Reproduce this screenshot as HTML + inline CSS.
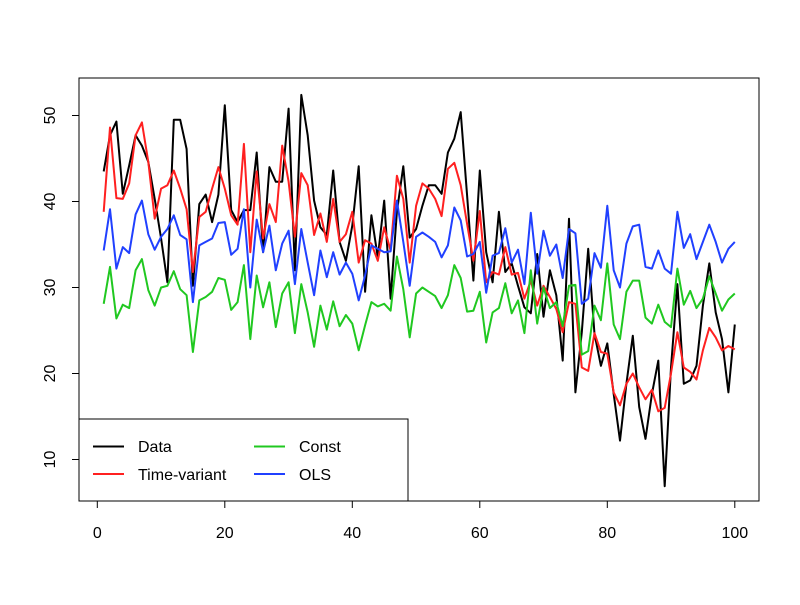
<!DOCTYPE html>
<html><head><meta charset="utf-8"><style>
html,body{margin:0;padding:0;background:#fff;}
svg text{font-family:"Liberation Sans",sans-serif;font-size:16px;fill:#000;}
</style></head><body>
<svg id="chart" width="800" height="600" viewBox="0 0 800 600" xmlns="http://www.w3.org/2000/svg">
<rect x="0" y="0" width="800" height="600" fill="#fff"/>
<g id="series"></g>
<rect x="79" y="78" width="680" height="423" fill="none" stroke="#000" stroke-width="1"/>
<g id="xaxis"></g>
<g id="yaxis"></g>
<g>
<rect x="79" y="419" width="329" height="82" fill="#fff" stroke="#000" stroke-width="1"/>
<g><line x1="93" y1="446.5" x2="124" y2="446.5" stroke="#000" stroke-width="2"/><text x="138" y="452">Data</text></g>
<g><line x1="93" y1="474" x2="124" y2="474" stroke="#ff2020" stroke-width="2"/><text x="138" y="480">Time-variant</text></g>
<g><line x1="254" y1="446.5" x2="285" y2="446.5" stroke="#20c820" stroke-width="2"/><text x="299" y="452">Const</text></g>
<g><line x1="254" y1="474" x2="285" y2="474" stroke="#2040ff" stroke-width="2"/><text x="299" y="480">OLS</text></g>
</g>
</svg>
<script>
const dataSeries = [43.5,47.7,49.3,40.9,44.2,47.7,46.5,44.6,40.3,35.7,30.6,49.5,49.5,46.1,30.2,39.7,40.8,37.6,40.8,51.2,39,37.6,39,39,45.7,34.1,44,42.3,42.3,50.8,32,52.4,47.7,40.1,37,36.1,43.6,35.3,33.1,37.2,44.1,29.5,38.4,33.5,40.1,28.7,38.8,44.1,35.8,36.8,39.5,41.9,41.9,40.9,45.7,47.3,50.4,40.7,30.8,43.6,34.1,30.6,38.8,31.8,32.8,30.2,27.7,27,33.9,26.6,32,29.1,21.5,38,17.8,24.8,34.5,24.6,20.9,23.5,17.6,12.2,18.8,24.4,16.1,12.4,17.6,21.5,6.9,20.7,30.4,18.8,19.2,20.9,27.9,32.8,27.1,24,17.8,25.7];
const timeVariant = [38.8,48.6,40.4,40.3,42.1,47.7,49.2,44.6,38,41.5,41.9,43.6,41.5,39.1,31.8,38.2,38.8,41.5,44,41.5,38.4,37.3,46.7,34.1,43.5,35.7,39.7,37.6,46.5,42.3,35.9,43.3,41.9,36.1,38.6,35.3,40.3,35.3,36.2,38.8,32.9,35.5,35.1,33.1,37,34.3,43,40.3,32.9,39.5,42.1,41.5,40.3,38.3,43.8,44.5,41.9,37.4,33.1,38.9,30.6,31.8,31.5,34.7,31.5,31.7,28.7,30.8,27.9,30.2,28.9,27.5,24.8,28.3,28.1,20.7,20.3,24.7,22.5,22.3,17.8,16.3,18.8,20,18.4,17,18.1,15.6,16,20,24.8,20.7,20.2,19.3,22.7,25.3,24.2,22.7,23.2,22.8];
const constSeries = [28.1,32.4,26.4,28,27.6,32,33.3,29.7,27.9,30,30.2,31.9,29.8,29.1,22.5,28.5,28.9,29.5,31.1,30.9,27.4,28.3,32.6,24,31.4,27.7,30.6,25.4,29.3,30.6,24.7,30.4,27.1,23.1,27.9,25.1,28.4,25.5,26.8,25.8,22.7,25.6,28.3,27.8,28.1,27.3,33.6,29.8,24.2,29.3,30,29.5,29,27.6,29.1,32.6,31.1,27.2,27.3,29.5,23.6,27.1,27.6,30.5,27,28.5,24.7,32,25.8,30,27.6,28.3,25.5,30.2,30.3,22.2,22.6,27.9,26.2,32.8,25.7,24,29.5,30.8,30.8,26.5,25.8,28,26,25.4,32.2,28,29.6,27.6,28.7,31.3,29.3,27.3,28.6,29.3];
const olsSeries = [34.3,39.1,32.2,34.7,34,38.5,40.1,36.2,34.4,35.9,36.8,38.4,36.1,35.6,28.3,34.9,35.3,35.7,37.5,37.6,33.8,34.5,39.1,30,37.9,34.1,37.2,32,35.1,36.6,30.4,36.8,32.9,29.1,34.3,31.2,34.1,31.5,32.9,31.6,28.5,31.4,34.9,34.5,34.1,34.2,40.1,35.3,30.2,35.9,36.4,35.9,35.3,33.5,34.9,39.3,37.8,33.6,33.9,35.3,29.4,33.7,34,36.9,32.9,34.4,30.4,38.7,31.6,36.6,33.7,35,31.1,36.8,36.3,28.1,28.7,34,32.3,39.5,32,30,35.1,37.1,37.3,32.4,32.2,34.3,32.2,31.6,38.8,34.6,36.2,33.3,35.3,37.3,35.3,32.9,34.5,35.3];
const xTicks = [0,20,40,60,80,100];
const yTicks = [10,20,30,40,50];

const NS = "http://www.w3.org/2000/svg";
function xScale(v){ return 97.3 + (v - 0) * 6.375; }
function yScale(v){ return 459.5 - (v - 10) * 8.6; }

const seriesDefs = [
  {vals: constSeries, color: "#20c820", name: "line-const"},
  {vals: timeVariant, color: "#ff2020", name: "line-time-variant"},
  {vals: olsSeries, color: "#2040ff", name: "line-ols"},
  {vals: dataSeries, color: "#000000", name: "line-data"}
];
const sg = document.getElementById("series");
const order = [3,1,0,2];
order.forEach(function(k){
  const s = seriesDefs[k];
  const pts = s.vals.map(function(v,i){ return xScale(i+1).toFixed(1) + "," + yScale(v).toFixed(1); }).join(" ");
  const pl = document.createElementNS(NS, "polyline");
  pl.setAttribute("points", pts);
  pl.setAttribute("fill", "none");
  pl.setAttribute("stroke", s.color);
  pl.setAttribute("stroke-width", "2");
  pl.setAttribute("stroke-linejoin", "round");
  
  
  sg.appendChild(pl);
});

const xg = document.getElementById("xaxis");
const xl = document.createElementNS(NS, "line");
xl.setAttribute("x1", xScale(xTicks[0])); xl.setAttribute("x2", xScale(xTicks[xTicks.length-1]));
xl.setAttribute("y1", 501); xl.setAttribute("y2", 501); xl.setAttribute("stroke", "#000");


xg.appendChild(xl);
xTicks.forEach(function(t){
  const tk = document.createElementNS(NS, "line");
  tk.setAttribute("x1", xScale(t)); tk.setAttribute("x2", xScale(t));
  tk.setAttribute("y1", 501); tk.setAttribute("y2", 508); tk.setAttribute("stroke", "#000");
  
  
  xg.appendChild(tk);
  const tx = document.createElementNS(NS, "text");
  tx.setAttribute("x", xScale(t)); tx.setAttribute("y", 538);
  tx.setAttribute("text-anchor", "middle");
  tx.textContent = String(t);
  
  
  xg.appendChild(tx);
});

const yg = document.getElementById("yaxis");
const yl = document.createElementNS(NS, "line");
yl.setAttribute("x1", 79); yl.setAttribute("x2", 79);
yl.setAttribute("y1", yScale(yTicks[0])); yl.setAttribute("y2", yScale(yTicks[yTicks.length-1]));
yl.setAttribute("stroke", "#000");


yg.appendChild(yl);
yTicks.forEach(function(t){
  const tk = document.createElementNS(NS, "line");
  tk.setAttribute("x1", 72); tk.setAttribute("x2", 79);
  tk.setAttribute("y1", yScale(t)); tk.setAttribute("y2", yScale(t)); tk.setAttribute("stroke", "#000");
  
  
  yg.appendChild(tk);
  const tx = document.createElementNS(NS, "text");
  tx.setAttribute("x", 0); tx.setAttribute("y", 0);
  tx.setAttribute("text-anchor", "middle");
  tx.setAttribute("transform", "translate(55," + yScale(t) + ") rotate(-90)");
  tx.textContent = String(t);
  
  
  yg.appendChild(tx);
});
</script>
</body></html>
